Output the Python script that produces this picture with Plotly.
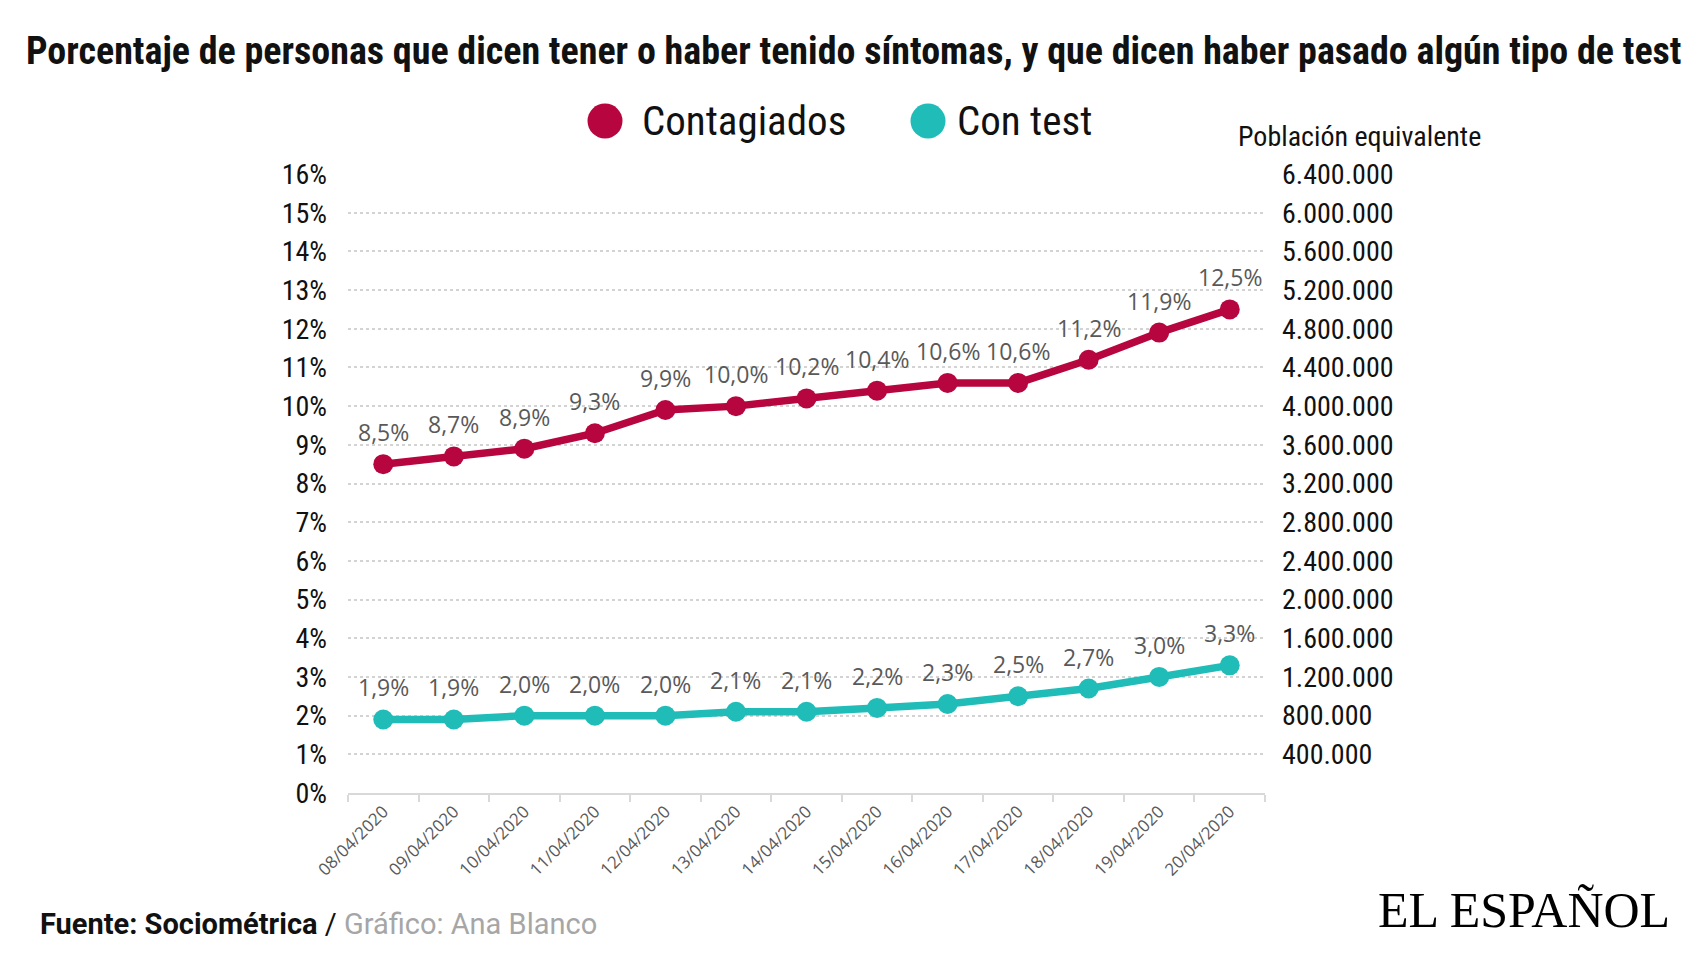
import plotly.graph_objects as go

fechas = ["08/04/2020", "09/04/2020", "10/04/2020", "11/04/2020", "12/04/2020",
          "13/04/2020", "14/04/2020", "15/04/2020", "16/04/2020", "17/04/2020",
          "18/04/2020", "19/04/2020", "20/04/2020"]
contagiados = [8.5, 8.7, 8.9, 9.3, 9.9, 10.0, 10.2, 10.4, 10.6, 10.6, 11.2, 11.9, 12.5]
con_test = [1.9, 1.9, 2.0, 2.0, 2.0, 2.1, 2.1, 2.2, 2.3, 2.5, 2.7, 3.0, 3.3]
pct_ticks = list(range(0, 17))
pob_ticks = [400000 * i for i in range(1, 17)]
POB_POR_PUNTO = 400000

RED = "#B7053F"
TEAL = "#1FBCB8"
COND = "Roboto Condensed, Liberation Sans Narrow, Arial Narrow, DejaVu Sans Condensed, sans-serif"
LABEL_FONT = "Open Sans, Carlito, Calibri, sans-serif"

W, H = 1706, 960
PL, PR, PT, PB = 348, 1265, 174, 793  # plot area in pixels


def px(x):
    return (x - PL) / (PR - PL)


def py(y):
    return (PB - y) / (PB - PT)


def fmt_pct(v):
    return f"{v:.1f}".replace(".", ",") + "%"


def fmt_pob(v):
    return f"{v:,}".replace(",", ".")


fig = go.Figure()
fig.add_trace(go.Scatter(x=fechas, y=contagiados, mode="lines+markers", name="Contagiados",
                         line=dict(color=RED, width=7.5), marker=dict(color=RED, size=20),
                         showlegend=False, hoverinfo="skip"))
fig.add_trace(go.Scatter(x=fechas, y=con_test, mode="lines+markers", name="Con test",
                         line=dict(color=TEAL, width=7.5), marker=dict(color=TEAL, size=20),
                         showlegend=False, hoverinfo="skip"))
# invisible trace to anchor the right (population) axis
fig.add_trace(go.Scatter(x=fechas, y=[v * POB_POR_PUNTO for v in contagiados], yaxis="y2",
                         mode="lines", line=dict(width=0, color="rgba(0,0,0,0)"),
                         showlegend=False, hoverinfo="skip"))

annotations = []
for serie in (contagiados, con_test):
    for f, v in zip(fechas, serie):
        annotations.append(dict(x=f, y=v, xref="x", yref="y", text=fmt_pct(v), showarrow=False,
                                yshift=32, font=dict(family=LABEL_FONT, size=23, color="#595959")))

# title
annotations.append(dict(x=px(853), y=py(51), xref="paper", yref="paper",
                        text="<b>Porcentaje de personas que dicen tener o haber tenido síntomas, y que dicen haber pasado algún tipo de test</b>",
                        showarrow=False, xanchor="center", yanchor="middle",
                        font=dict(family=COND, size=38, color="#111111")))
# legend
for tx, name in ((640, "Contagiados"), (955, "Con test")):
    annotations.append(dict(x=px(tx), y=py(121), xref="paper", yref="paper", text=name,
                            showarrow=False, xanchor="left", yanchor="middle",
                            font=dict(family=COND, size=41, color="#111111")))
# right axis title
annotations.append(dict(x=px(1236), y=py(136), xref="paper", yref="paper",
                        text="Población equivalente", showarrow=False, xanchor="left", yanchor="middle",
                        font=dict(family=COND, size=28, color="#111111")))
# footer
annotations.append(dict(x=px(38), y=py(924), xref="paper", yref="paper",
                        text="<b>Fuente: Sociométrica</b> / <span style='color:#a6a6a6'>Gráfico: Ana Blanco</span>",
                        showarrow=False, xanchor="left", yanchor="middle",
                        font=dict(family="Roboto, sans-serif", size=29, color="#111111")))
# logo
annotations.append(dict(x=px(1672), y=py(910), xref="paper", yref="paper",
                        text="EL ESPAÑOL", showarrow=False, xanchor="right", yanchor="middle",
                        font=dict(family="Liberation Serif, serif", size=50, color="#000000")))

shapes = []
r = 17.5
for cx, col in ((605, RED), (928, TEAL)):
    shapes.append(dict(type="circle", xref="paper", yref="paper",
                       x0=px(cx - r), x1=px(cx + r),
                       y0=py(121 + r), y1=py(121 - r),
                       fillcolor=col, line=dict(width=0)))

fig.update_layout(
    width=W, height=H,
    margin=dict(l=PL, r=W - PR, t=PT, b=H - PB),
    paper_bgcolor="white", plot_bgcolor="white",
    annotations=annotations, shapes=shapes,
    xaxis=dict(type="category", range=[-0.5, 12.5], showgrid=False, showline=True,
               linecolor="#d9d9d9", linewidth=2, ticks="outside", tickson="boundaries",
               ticklen=7, tickwidth=2, tickcolor="#d9d9d9", tickangle=-45,
               tickfont=dict(family=LABEL_FONT, size=17, color="#595959")),
    yaxis=dict(range=[0, 16], tickvals=pct_ticks, ticktext=[f"{t}%" for t in pct_ticks],
               showgrid=True, gridcolor="#d3d3d3", griddash="dot", gridwidth=1.5,
               zeroline=False, showline=False, ticks="", ticklabelstandoff=20,
               tickfont=dict(family=COND, size=28, color="#111111")),
    yaxis2=dict(range=[0, 16 * POB_POR_PUNTO], overlaying="y", side="right",
                tickvals=pob_ticks, ticktext=[fmt_pob(t) for t in pob_ticks],
                showgrid=False, zeroline=False, showline=False, ticks="", ticklabelstandoff=16,
                tickfont=dict(family=COND, size=28, color="#111111")),
)

fig.write_html("out.html")
